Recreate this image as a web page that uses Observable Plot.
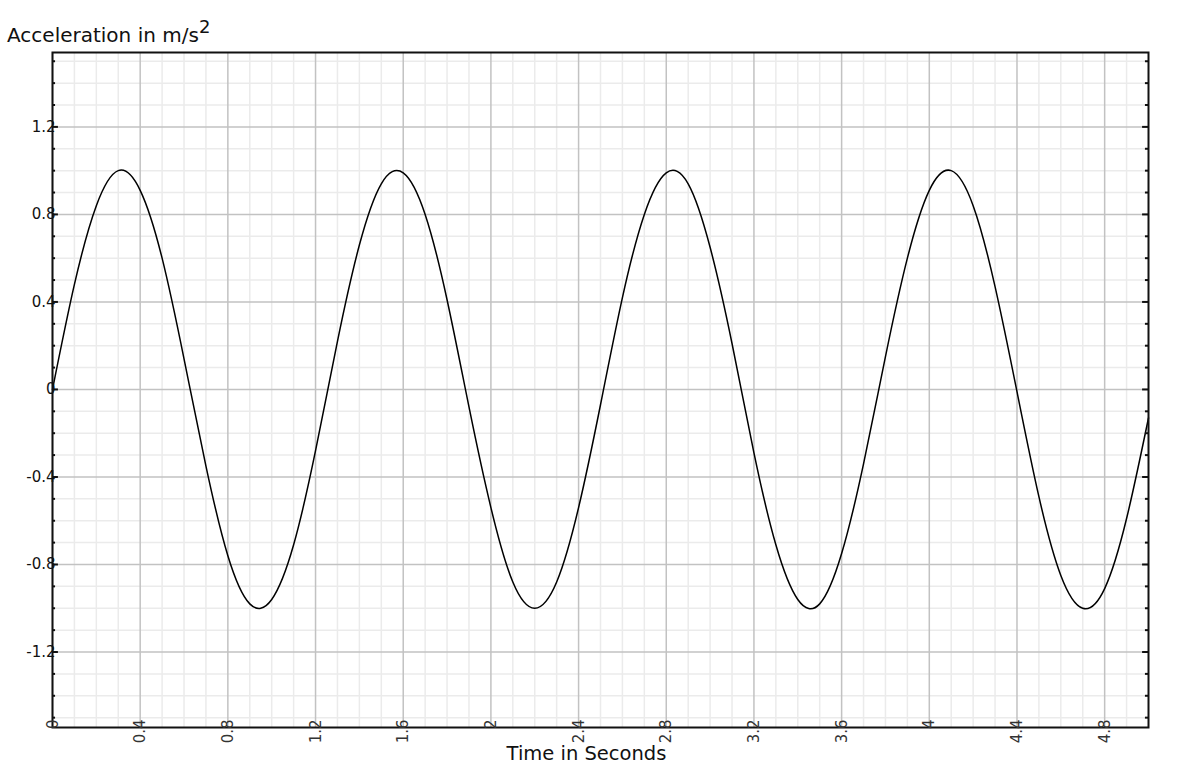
<!DOCTYPE html>
<html>
<head>
<meta charset="utf-8">
<script src="https://cdn.jsdelivr.net/npm/d3@7"></script>
<script src="https://cdn.jsdelivr.net/npm/@observablehq/plot@0.6"></script>
<style>
  html, body { margin: 0; padding: 0; background: #fff; }
  #wrap { position: relative; width: 1200px; height: 779px; overflow: hidden; }
  #title { position: absolute; left: 7px; top: 17px; font-family: "DejaVu Sans", sans-serif; font-size: 20px; color: #111; white-space: nowrap; }
  #title sup { font-size: 18px; position: relative; top: -1px; }
  #xlabel { position: absolute; left: 0; width: 1173px; top: 742px; text-align: center; font-family: "DejaVu Sans", sans-serif; font-size: 19.5px; color: #111; }
  #chart { position: absolute; left: 0; top: 0; }
</style>
</head>
<body>
<div id="wrap">
  <div id="chart"></div>
  <div id="title">Acceleration in m/s<sup>2</sup></div>
  <div id="xlabel">Time in Seconds</div>
</div>
<script>
// Time in seconds (sampled from the curve)
const time = [0,0.1,0.2,0.3,0.4,0.5,0.6,0.7,0.8,0.9,1.0,1.1,1.2,1.3,1.4,1.5,1.6,1.7,1.8,1.9,2.0,2.1,2.2,2.3,2.4,2.5,2.6,2.7,2.8,2.9,3.0,3.1,3.2,3.3,3.4,3.5,3.6,3.7,3.8,3.9,4.0,4.1,4.2,4.3,4.4,4.5,4.6,4.7,4.8,4.9,5.0];
// Acceleration in m/s^2
const accel = [0,0.48,0.84,1.0,0.91,0.6,0.14,-0.35,-0.76,-0.98,-0.96,-0.71,-0.28,0.22,0.66,0.94,0.99,0.8,0.41,-0.08,-0.54,-0.88,-1.0,-0.88,-0.54,-0.07,0.42,0.8,0.99,0.94,0.65,0.21,-0.29,-0.71,-0.96,-0.98,-0.75,-0.34,0.15,0.6,0.91,1.0,0.84,0.47,-0.01,-0.49,-0.85,-1.0,-0.91,-0.59,-0.13];

const xTicks = [0,0.4,0.8,1.2,1.6,2,2.4,2.8,3.2,3.6,4,4.4,4.8];
const xTickLabels = ["0","0.4","0.8","1.2","1.6","2","2.4","2.8","3.2","3.6","4","4.4","4.8"];
const yTicks = [-1.2,-0.8,-0.4,0,0.4,0.8,1.2];
const yTickLabels = ["-1.2","-0.8","-0.4","0","0.4","0.8","1.2"];
const xMinor = [0.1,0.2,0.3,0.5,0.6,0.7,0.9,1.0,1.1,1.3,1.4,1.5,1.7,1.8,1.9,2.1,2.2,2.3,2.5,2.6,2.7,2.9,3.0,3.1,3.3,3.4,3.5,3.7,3.8,3.9,4.1,4.2,4.3,4.5,4.6,4.7,4.9];
const yMinor = [-1.5,-1.4,-1.3,-1.1,-1.0,-0.9,-0.7,-0.6,-0.5,-0.3,-0.2,-0.1,0.1,0.2,0.3,0.5,0.6,0.7,0.9,1.0,1.1,1.3,1.4,1.5];

const xDomain = [0, 5];
const yDomain = [-1.545, 1.54];

const data = time.map((t, i) => ({t, a: accel[i]}));
const xt = xTicks.map((v, i) => ({v, label: xTickLabels[i]}));
const yt = yTicks.map((v, i) => ({v, label: yTickLabels[i]}));

const chart = Plot.plot({
  width: 1200,
  height: 779,
  marginLeft: 52,
  marginRight: 52,
  marginTop: 52,
  marginBottom: 52,
  style: {background: "#fff", fontFamily: "DejaVu Sans, sans-serif"},
  x: {domain: xDomain, axis: null},
  y: {domain: yDomain, axis: null},
  marks: [
    Plot.ruleX(xMinor, {stroke: "#ebebeb", strokeWidth: 1.5}),
    Plot.ruleY(yMinor, {stroke: "#ebebeb", strokeWidth: 1.5}),
    Plot.ruleX(xTicks, {stroke: "#c2c2c2", strokeWidth: 1.5}),
    Plot.ruleY(yTicks, {stroke: "#c2c2c2", strokeWidth: 1.5}),
    Plot.line(data, {x: "t", y: "a", curve: "natural", stroke: "#000", strokeWidth: 1.5}),
    // inward tick marks on left and right
    Plot.ruleY(yMinor, {x1: xDomain[0], x2: 0.014, stroke: "#111", strokeWidth: 2}),
    Plot.ruleY(yTicks, {x1: xDomain[0], x2: 0.027, stroke: "#111", strokeWidth: 2}),
    Plot.ruleY(yMinor, {x1: 4.986, x2: xDomain[1], stroke: "#111", strokeWidth: 2}),
    Plot.ruleY(yTicks, {x1: 4.973, x2: xDomain[1], stroke: "#111", strokeWidth: 2}),
    Plot.frame({stroke: "#111", strokeWidth: 2}),
    // y tick labels
    Plot.text(yt, {x: xDomain[0], y: "v", text: "label", textAnchor: "end", dx: 3, fontSize: 15, fill: "#111"}),
    // x tick labels rotated
    Plot.text(xt, {x: "v", frameAnchor: "bottom", text: "label", rotate: -90, textAnchor: "end", dx: 5, dy: -8, fontSize: 15, fill: "#333"})
  ]
});
document.getElementById("chart").appendChild(chart);
</script>
</body>
</html>
